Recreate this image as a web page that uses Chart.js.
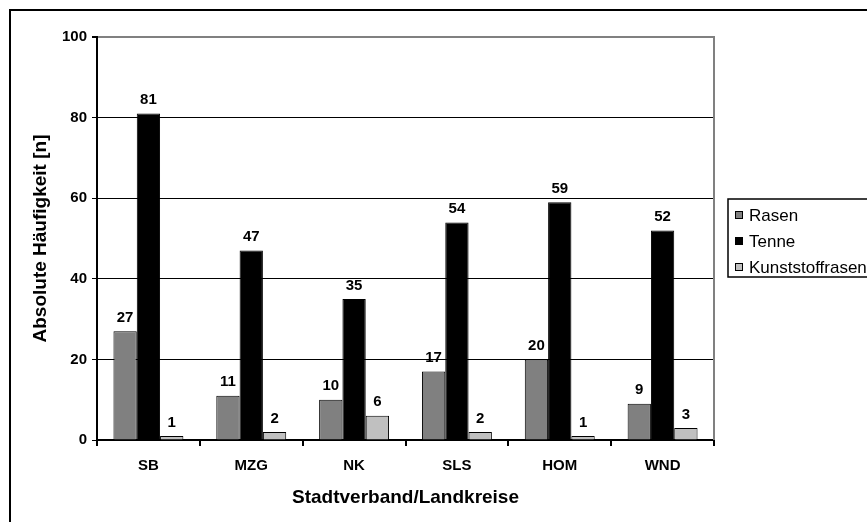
<!DOCTYPE html>
<html>
<head>
<meta charset="utf-8">
<script src="https://cdn.jsdelivr.net/npm/chart.js@4/dist/chart.umd.min.js"></script>
<style>
html,body{margin:0;padding:0;background:#fff;overflow:hidden;}
</style>
</head>
<body>
<canvas id="grafico" width="867" height="522"></canvas>
<script>
// Daten
const kreise = ['SB','MZG','NK','SLS','HOM','WND'];
const rasen = [27,11,10,17,20,9];
const tenne = [81,47,35,54,59,52];
const kunststoffrasen = [1,2,6,2,1,3];
const yTicks = [0,20,40,60,80,100];

const fontName = '"Liberation Sans", Arial, sans-serif';

// Werte über den Balken
const wertePlugin = {
	id:'werte',
	afterDatasetsDraw(chart){
		const ctx = chart.ctx;
		ctx.save();
		ctx.font = 'bold 15px ' + fontName;
		ctx.fillStyle = '#000';
		ctx.textAlign = 'center';
		ctx.textBaseline = 'bottom';
		chart.data.datasets.forEach((ds,i)=>{
			chart.getDatasetMeta(i).data.forEach((bar,j)=>{
				ctx.fillText(ds.data[j], bar.x, bar.y - 6);
			});
		});
		ctx.restore();
	}
};

// Rahmen, Plotrand und Legende
const rahmenPlugin = {
	id:'rahmen',
	beforeDraw(chart){
		const ctx = chart.ctx;
		ctx.save();
		ctx.fillStyle = '#fff';
		ctx.fillRect(0,0,chart.width,chart.height);
		ctx.restore();
	},
	afterDraw(chart){
		const ctx = chart.ctx;
		const a = chart.chartArea;
		ctx.save();
		// aeusserer Rahmen
		ctx.strokeStyle = '#000';
		ctx.lineWidth = 2;
		ctx.strokeRect(10, 10, chart.width + 20, chart.height + 20);
		// Plotrand rechts
		ctx.strokeStyle = '#808080';
		ctx.beginPath();
		ctx.moveTo(a.right, a.top - 1);
		ctx.lineTo(a.right, a.bottom);
		ctx.stroke();
		// Legende
		ctx.strokeStyle = '#000';
		ctx.lineWidth = 1.5;
		ctx.strokeRect(728, 199, 200, 78);
		ctx.font = '17px ' + fontName;
		ctx.textBaseline = 'middle';
		ctx.textAlign = 'left';
		chart.data.datasets.forEach((ds,i)=>{
			const y = 215 + i * 26;
			ctx.fillStyle = ds.backgroundColor;
			ctx.fillRect(735, y - 4, 8, 8);
			ctx.lineWidth = 1;
			ctx.strokeStyle = '#000';
			ctx.strokeRect(735.5, y - 3.5, 7, 7);
			ctx.fillStyle = '#000';
			ctx.fillText(ds.label, 749, y + 1);
		});
		ctx.restore();
	}
};

let datos = {
	labels:kreise,
	datasets:[
		{label:'Rasen', data:rasen, backgroundColor:'#808080', borderColor:'#000', borderWidth:1},
		{label:'Tenne', data:tenne, backgroundColor:'#000000', borderColor:'#000', borderWidth:1},
		{label:'Kunststoffrasen', data:kunststoffrasen, backgroundColor:'#c0c0c0', borderColor:'#000', borderWidth:1}
	]
};

let opciones = {
	responsive:false,
	animation:false,
	layout:{padding:{left:0, top:37, right:153, bottom:0}},
	datasets:{bar:{categoryPercentage:0.68, barPercentage:1}},
	plugins:{legend:{display:false}, tooltip:{enabled:false}},
	scales:{
		x:{
			offset:true,
			grid:{display:true, drawOnChartArea:false, drawTicks:true, tickLength:6, color:'#000', lineWidth:2, offset:true},
			border:{display:true, color:'#000', width:2},
			ticks:{color:'#000', font:{family:fontName, size:15, weight:'bold'}, padding:11},
			title:{display:true, text:'Stadtverband/Landkreise', color:'#000', font:{family:fontName, size:19, weight:'bold'}, padding:{top:0, bottom:13}},
			afterFit(scale){ scale.height = 82; }
		},
		y:{
			min:0, max:100,
			afterBuildTicks(scale){ scale.ticks = yTicks.map(v=>({value:v})); },
			grid:{
				color:(c)=> c.tick && c.tick.value === 100 ? '#808080' : (c.tick && c.tick.value === 0 ? 'rgba(0,0,0,0)' : '#000'),
				lineWidth:(c)=> c.tick && c.tick.value === 100 ? 2 : 1,
				tickColor:'#000', tickLength:5
			},
			border:{display:true, color:'#000', width:2},
			ticks:{color:'#000', font:{family:fontName, size:15, weight:'bold'}, padding:5},
			title:{display:true, text:'Absolute Häufigkeit [n]', color:'#000', font:{family:fontName, size:19, weight:'bold'}, padding:{top:29, bottom:0}},
			afterFit(scale){ scale.width = 97; }
		}
	}
};

let G1 = new Chart(document.getElementById('grafico').getContext('2d'),{
	type:'bar',
	data:datos,
	options:opciones,
	plugins:[wertePlugin, rahmenPlugin]
});
</script>
</body>
</html>
